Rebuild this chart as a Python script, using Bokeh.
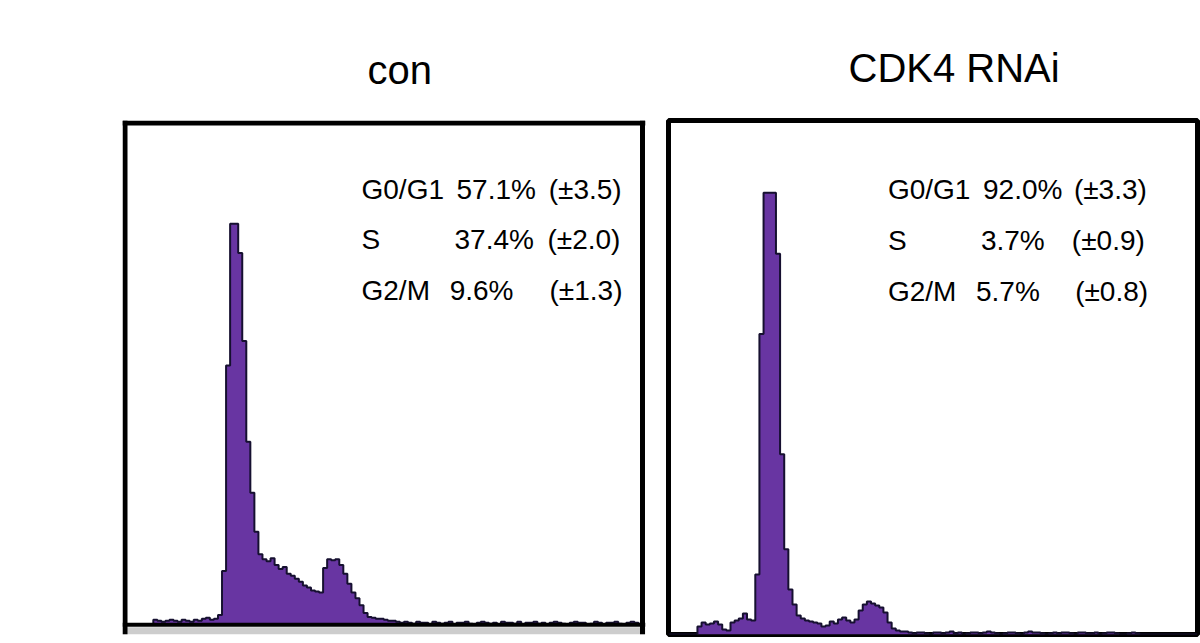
from bokeh.plotting import figure
from bokeh.layouts import row
from bokeh.models import Range1d, Span, BoxAnnotation
from bokeh.core.properties import value
from bokeh.embed import file_html
from bokeh.resources import INLINE

# ---------------- data ----------------
titles = ["con", "CDK4 RNAi"]
phases = ["G0/G1", "S", "G2/M"]
con_pct = ["57.1%", "37.4%", "9.6%"]
con_sd = ["(±3.5)", "(±2.0)", "(±1.3)"]
cdk4_pct = ["92.0%", "3.7%", "5.7%"]
cdk4_sd = ["(±3.3)", "(±0.9)", "(±0.8)"]

# DNA-content histogram counts per channel bin (128 bins)
con_counts = [
    0, 0, 0, 0, 0, 0, 0, 5, 4, 3, 4, 5, 4, 3, 5, 4, 3, 5, 4, 6,
    7, 5, 6, 10, 55, 265, 410, 410, 380, 290, 187, 135, 95, 72, 67, 65, 68, 61, 57, 59,
    52, 50, 47, 44, 40, 38, 35, 34, 33, 58, 67, 66, 67, 61, 52, 42, 33, 27, 20, 12,
    8, 7, 6, 6, 5, 4, 4, 3, 2, 3, 2, 1, 3, 2, 2, 0, 3, 2, 1, 2,
    3, 0, 2, 2, 3, 1, 0, 2, 3, 2, 1, 2, 0, 3, 2, 2, 1, 3, 0, 2,
    2, 3, 1, 2, 0, 2, 3, 2, 1, 0, 2, 3, 2, 2, 0, 1, 3, 2, 0, 2,
    2, 3, 1, 0, 2, 3, 2, 0,
]
cdk4_counts = [
    0, 0, 0, 0, 0, 0, 0, 8, 12, 10, 11, 13, 10, 5, 4, 12, 14, 16, 21, 15,
    14, 60, 300, 441, 441, 441, 380, 180, 85, 45, 30, 19, 16, 14, 13, 12, 11, 8, 9, 13,
    11, 15, 17, 14, 12, 15, 24, 30, 33, 31, 29, 27, 22, 12, 6, 4, 3, 3, 2, 1,
    2, 2, 1, 0, 2, 2, 1, 2, 3, 1, 2, 0, 1, 2, 2, 1, 2, 3, 2, 1,
    0, 1, 2, 2, 1, 0, 2, 3, 2, 2, 1, 0, 1, 2, 1, 2, 2, 1, 0, 2,
    2, 1, 1, 2, 0, 1, 2, 2, 1, 0, 0, 1, 2, 1, 0, 0, 0, 0, 0, 0,
    0, 0, 0, 0, 0, 0, 0, 0,
]

FONT = "Liberation Sans"
FILL = "#6835a2"
EDGE = "#161030"
N_BINS = 128
Y_TOP = 513


def style(p, title_offset, standoff):
    p.grid.visible = False
    p.background_fill_color = "white"
    p.border_fill_color = "white"
    p.title.align = "left"
    p.title.text_font = FONT
    p.title.text_font_size = "40px"
    p.title.text_font_style = "normal"
    p.title.text_color = "black"
    p.title.offset = title_offset
    p.title.standoff = standoff


def draw(p, counts, pct, sd, xs_label, xs_pct, xs_sd):
    n = len(counts)
    xs = list(range(n)) + [n]
    p.varea_step(x=xs, y1=[0] * (n + 1), y2=list(counts) + [0],
                 step_mode="after", fill_color=FILL)
    p.step(x=xs, y=list(counts) + [0], mode="after",
           line_color=EDGE, line_width=2)
    rows_y = [444.5, 393.5, 342]
    for col_x, texts in ((xs_label, phases), (xs_pct, pct), (xs_sd, sd)):
        p.text(x=col_x, y=rows_y, text=texts, text_font=value(FONT),
               text_font_size="28px", text_color="black",
               text_baseline="middle", text_align="left")


# ---- left panel (box continues below the baseline, cut by the page edge)
px_l = 517.5 / N_BINS
p1 = figure(width=655, height=643, output_backend="svg", toolbar_location=None,
            x_range=Range1d(-2.5 / px_l, N_BINS + 3.0 / px_l),
            y_range=Range1d(-10, Y_TOP + 2.5),
            x_axis_location=None, y_axis_location=None, title=titles[0],
            min_border_left=122, min_border_right=10,
            min_border_top=118, min_border_bottom=0)
style(p1, 245, 58)
p1.outline_line_color = None
p1.add_layout(BoxAnnotation(top=-2.5, fill_color="#cdcdcd",
                            fill_alpha=1.0, line_color=None))
draw(p1, con_counts, con_pct, con_sd,
     [58.5, 58.5, 58.5], [82.0, 81.5, 80.3], [104.8, 104.5, 105.0])
for loc, dim in ((0, "height"), (N_BINS, "height"), (Y_TOP, "width")):
    p1.add_layout(Span(location=loc, dimension=dim,
                       line_color="black", line_width=5))
p1.add_layout(Span(location=0, dimension="width",
                   line_color="black", line_width=4))

# ---- right panel
p2 = figure(width=545, height=643, output_backend="svg", toolbar_location=None,
            x_range=Range1d(0, N_BINS), y_range=Range1d(0, Y_TOP),
            x_axis_location=None, y_axis_location=None, title=titles[1],
            min_border_left=13, min_border_right=3,
            min_border_top=120, min_border_bottom=9)
style(p2, 180, 62)
p2.outline_line_color = "black"
p2.outline_line_width = 5
draw(p2, cdk4_counts, cdk4_pct, cdk4_sd,
     [53.1, 53.1, 53.1], [76.1, 75.6, 74.4], [98.1, 97.6, 98.4])

layout = row(p1, p2)
open("out.html", "w").write(file_html(layout, INLINE))
